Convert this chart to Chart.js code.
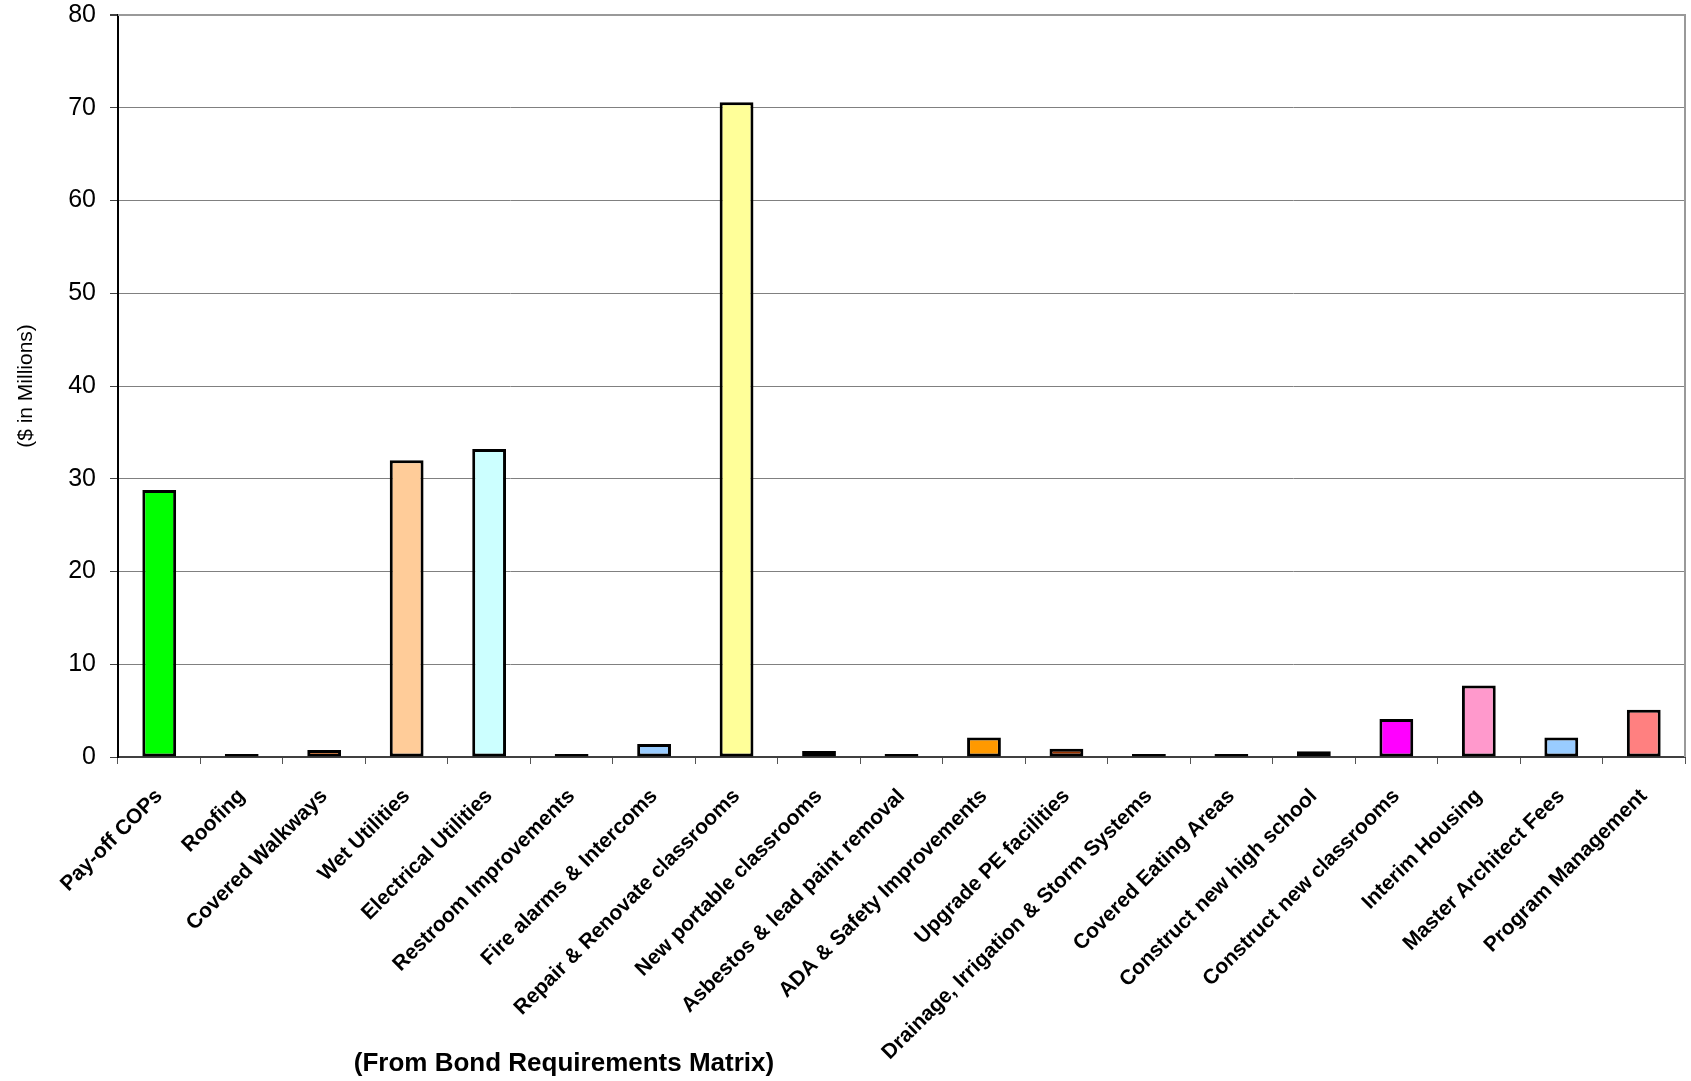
<!DOCTYPE html>
<html>
<head>
<meta charset="utf-8">
<script src="https://cdn.jsdelivr.net/npm/chart.js@4.4.1/dist/chart.umd.min.js"></script>
<style>
  html, body { margin: 0; padding: 0; background: #fff; }
</style>
</head>
<body>
<canvas id="bondChart" width="1691" height="1081"></canvas>
<script>
const categories = [
  'Pay-off COPs', 'Roofing', 'Covered Walkways', 'Wet Utilities', 'Electrical Utilities',
  'Restroom Improvements', 'Fire alarms & Intercoms', 'Repair & Renovate classrooms',
  'New portable classrooms', 'Asbestos & lead paint removal', 'ADA & Safety Improvements',
  'Upgrade PE facilities', 'Drainage, Irrigation & Storm Systems', 'Covered Eating Areas',
  'Construct new high school', 'Construct new classrooms', 'Interim Housing',
  'Master Architect Fees', 'Program Management'
]
const amounts = [28.8, 0.26, 0.75, 32.0, 33.2, 0.2, 1.4, 70.6, 0.65, 0.2, 2.1, 0.88, 0.08, 0.15, 0.62, 4.1, 7.7, 2.1, 5.1]
const barColors = [
  '#00FF00', '#000080', '#FF6600', '#FFCC99', '#CCFFFF', '#333399', '#99CCFF', '#FFFF99',
  '#993366', '#333333', '#FF9900', '#993300', '#003366', '#808080', '#008000', '#FF00FF',
  '#FF99CC', '#99CCFF', '#FF8080'
]
const yTickValues = [0, 10, 20, 30, 40, 50, 60, 70, 80]
const yTitle = '($ in Millions)'
const xTitle = '(From Bond Requirements Matrix)'

const FONT = "'Liberation Sans', Arial, sans-serif"

// frame on top/right of the plot area plus the free-standing x title
const framePlugin = {
  id: 'frame',
  afterDraw(chart) {
    const { ctx, chartArea } = chart
    ctx.save()
    ctx.strokeStyle = '#999999'
    ctx.lineWidth = 2
    ctx.beginPath()
    ctx.moveTo(chartArea.left, chartArea.top)
    ctx.lineTo(chartArea.right, chartArea.top)
    ctx.lineTo(chartArea.right, chartArea.bottom)
    ctx.stroke()

    ctx.fillStyle = '#000'
    ctx.font = `bold 26px ${FONT}`
    ctx.textAlign = 'center'
    ctx.textBaseline = 'middle'
    ctx.fillText(xTitle, 564, 1064)
    ctx.restore()
  }
}

new Chart(document.getElementById('bondChart'), {
  type: 'bar',
  data: {
    labels: categories,
    datasets: [{
      data: amounts,
      backgroundColor: barColors,
      borderColor: '#000',
      borderWidth: 3,
      borderSkipped: false,
      minBarLength: 3,
      categoryPercentage: 1,
      barPercentage: 0.41
    }]
  },
  options: {
    responsive: false,
    animation: false,
    layout: { padding: { top: 15, right: 6, left: 0, bottom: 0 } },
    plugins: {
      legend: { display: false },
      tooltip: { enabled: false }
    },
    scales: {
      x: {
        afterFit: scale => { scale.height = 324 },
        border: { color: '#404040', width: 2 },
        grid: {
          drawOnChartArea: false,
          offset: true,
          tickLength: 7,
          color: '#555'
        },
        ticks: {
          autoSkip: false,
          minRotation: 45,
          maxRotation: 45,
          padding: 20,
          color: '#000',
          font: { family: FONT, size: 21, weight: 'bold' }
        }
      },
      y: {
        min: 0,
        max: 80,
        afterFit: scale => {
          scale.width = 118
          scale.paddingTop = 0
          scale.paddingBottom = 0
        },
        afterBuildTicks: axis => { axis.ticks = yTickValues.map(v => ({ value: v })) },
        border: { color: '#000', width: 2 },
        grid: {
          color: ctx => ctx.tick && ctx.tick.value === 80 ? '#999999' : '#808080',
          lineWidth: ctx => ctx.tick && ctx.tick.value === 80 ? 2 : 1,
          tickLength: 8,
          tickColor: '#404040'
        },
        ticks: {
          padding: 14,
          color: '#000',
          font: { family: FONT, size: 25 }
        },
        title: {
          display: true,
          text: yTitle,
          color: '#000',
          padding: { top: 14, bottom: 0 },
          font: { family: FONT, size: 21 }
        }
      }
    }
  },
  plugins: [framePlugin]
})
</script>
</body>
</html>
